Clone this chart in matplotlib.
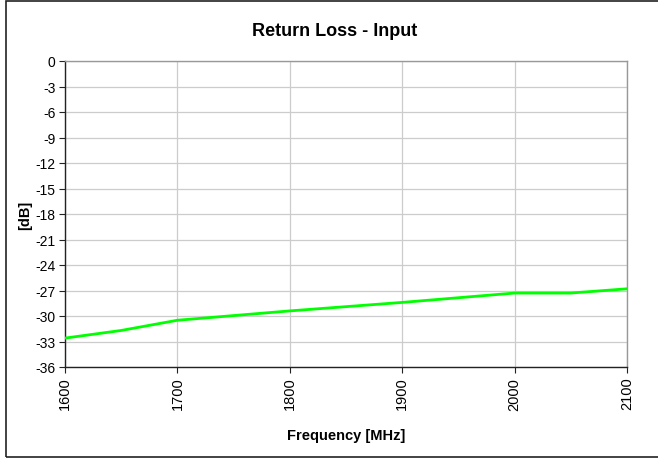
import numpy as np
import matplotlib
matplotlib.use("Agg")
import matplotlib.pyplot as plt
from matplotlib.patches import Rectangle

freq_mhz = [1600, 1650, 1700, 1800, 1900, 2000, 2050, 2100]
return_loss_db = [-32.6, -31.7, -30.5, -29.4, -28.4, -27.3, -27.3, -26.8]
x_ticks = [1600, 1700, 1800, 1900, 2000, 2100]
y_ticks = list(range(0, -37, -3))

plt.rcParams['font.family'] = ['Liberation Sans', 'DejaVu Sans']

fig = plt.figure(figsize=(6.58, 4.6), dpi=100)
ax = fig.add_axes([65 / 658, 1 - 368 / 460, 562 / 658, 306 / 460])

# outer chart frame
fig.patches.append(Rectangle((6 / 658, 2 / 460), 1.0, 456 / 460, transform=fig.transFigure,
                             fill=False, edgecolor='#222222', linewidth=1.2))

ax.plot(freq_mhz, return_loss_db, color='#00ff00', linewidth=2.0, zorder=3)

ax.set_xlim(1600, 2100)
ax.set_ylim(-36, 0)
ax.set_xticks(x_ticks)
ax.set_yticks(y_ticks)
ax.set_xticklabels([str(t) for t in x_ticks], rotation=90, fontsize=10.5)
ax.set_yticklabels([str(t) for t in y_ticks], fontsize=10)
ax.grid(True, color='#cccccc', linewidth=0.9)
ax.set_axisbelow(True)

ax.spines['left'].set_color('#222222')
ax.spines['bottom'].set_color('#222222')
ax.spines['right'].set_color('#999999')
ax.spines['top'].set_color('#999999')
for s in ax.spines.values():
    s.set_linewidth(1.0)
ax.tick_params(direction='out', length=4, width=0.8, color='#222222', pad=3)

ax.set_title('Return Loss - Input', fontsize=13, fontweight='bold', pad=19, x=0.48)
ax.set_xlabel('Frequency [MHz]', fontsize=10.5, fontweight='bold', labelpad=13)
ax.set_ylabel('[dB]', fontsize=10.5, fontweight='bold', labelpad=2)

plt.savefig('out.png', dpi=100)
plt.close()
